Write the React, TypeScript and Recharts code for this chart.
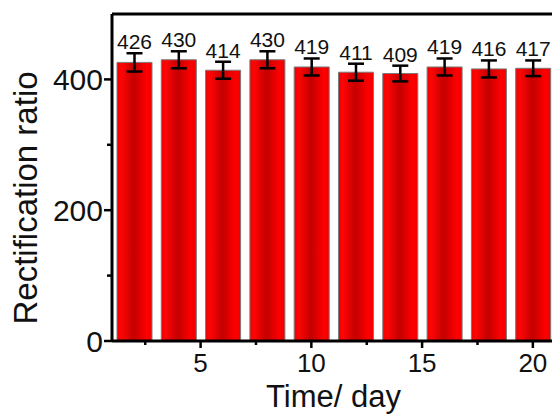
import React from 'react';
import {
  BarChart,
  Bar,
  XAxis,
  YAxis,
  ErrorBar,
  LabelList,
  ReferenceLine,
  Label,
} from 'recharts';

const days = [2, 4, 6, 8, 10, 12, 14, 16, 18, 20];
const ratios = [426, 430, 414, 430, 419, 411, 409, 419, 416, 417];
const errors = [14, 13, 13, 13, 13, 13, 12, 13, 13, 12];
const xTicks = [2.5, 5, 7.5, 10, 12.5, 15, 17.5, 20];
const yTicks = [0, 100, 200, 300, 400];

const FONT = '"Liberation Sans", Arial, sans-serif';

const data = days.map((d, i) => ({ day: d, ratio: ratios[i], err: errors[i] }));

const XTick = (props: any) => {
  const { x, y, payload } = props;
  const major = payload.value % 5 === 0;
  return (
    <g>
      <line x1={x} x2={x} y1={y} y2={y + (major ? 7 : 4)} stroke="#000" strokeWidth={2.5} />
      {major && (
        <text x={x} y={y + 13} dy="0.71em" textAnchor="middle" fontSize={26} fontFamily={FONT} fill="#111">
          {payload.value}
        </text>
      )}
    </g>
  );
};

const YTick = (props: any) => {
  const { x, y, payload } = props;
  const major = payload.value % 200 === 0;
  return (
    <g>
      <line x1={x - (major ? 8 : 5)} x2={x} y1={y} y2={y} stroke="#000" strokeWidth={2.5} />
      {major && (
        <text x={x - 9} y={y} dy="0.36em" textAnchor="end" fontSize={30} fontFamily={FONT} fill="#111">
          {payload.value}
        </text>
      )}
    </g>
  );
};

// value label sits just above the error bar cap
const renderValue = (props: any) => {
  const { x, y, width, height, value, index } = props;
  const err = errors[index] ?? 13;
  const top = y - (err * height) / value;
  return (
    <text x={x + width / 2} y={top - 4} textAnchor="middle" fontSize={21} fontFamily={FONT} fill="#111">
      {value}
    </text>
  );
};

export default function App() {
  return (
    <div style={{ position: 'fixed', left: 0, top: 0, width: 552, height: 414, overflow: 'hidden', background: '#fff' }}>
      <BarChart width={580} height={414} data={data} margin={{ top: 14, right: 25, left: 0, bottom: 0 }}>
        <defs>
          <linearGradient id="barGrad" x1="0" y1="0" x2="1" y2="0">
            <stop offset="0%" stopColor="#ee0000" />
            <stop offset="12%" stopColor="#ff0505" />
            <stop offset="48%" stopColor="#c40000" />
            <stop offset="85%" stopColor="#ff0000" />
            <stop offset="100%" stopColor="#f00000" />
          </linearGradient>
        </defs>
        <XAxis
          dataKey="day"
          type="number"
          domain={[1, 21]}
          ticks={xTicks}
          allowDataOverflow
          height={73}
          tickSize={0}
          tickMargin={0}
          tickLine={false}
          tick={<XTick />}
          axisLine={{ stroke: '#000', strokeWidth: 3 }}
          interval={0}
        >
          <Label
            value="Time/ day"
            position="insideBottom"
            offset={7}
            style={{ fontSize: 31, fontFamily: FONT, fill: '#111' }}
          />
        </XAxis>
        <YAxis
          type="number"
          domain={[0, 500]}
          ticks={yTicks}
          width={112}
          tickSize={0}
          tickMargin={0}
          tickLine={false}
          tick={<YTick />}
          axisLine={{ stroke: '#000', strokeWidth: 3 }}
          interval={0}
        >
          <Label
            content={() => (
              <text
                x={37}
                y={198}
                transform="rotate(-90 37 198)"
                textAnchor="middle"
                fontSize={33}
                fontFamily={FONT}
                fill="#111"
              >
                Rectification ratio
              </text>
            )}
          />
        </YAxis>
        <ReferenceLine y={500} stroke="#000" strokeWidth={3} ifOverflow="extendDomain" />
        <Bar dataKey="ratio" barSize={35} fill="url(#barGrad)" stroke="#7a7a7a" strokeWidth={1} isAnimationActive={false}>
          <ErrorBar dataKey="err" width={8} stroke="#000" strokeWidth={2.5} direction="y" />
          <LabelList dataKey="ratio" content={renderValue} />
        </Bar>
      </BarChart>
    </div>
  );
}
